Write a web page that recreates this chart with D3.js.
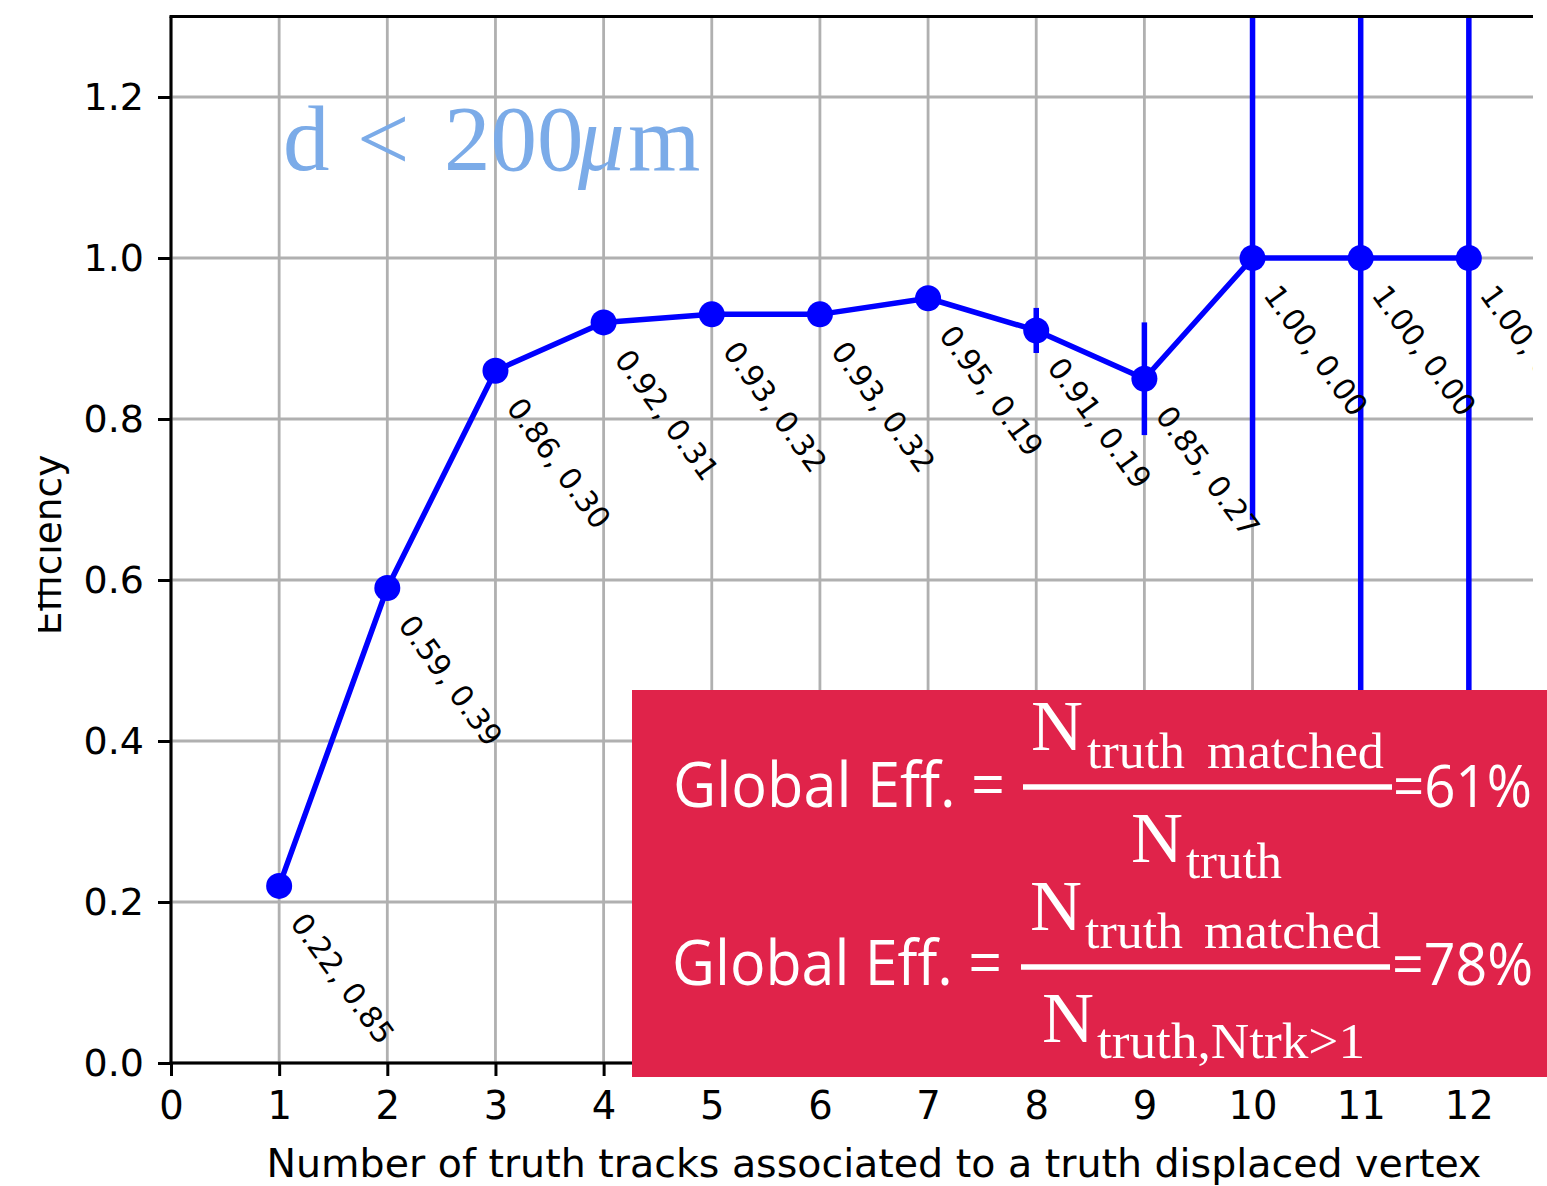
<!DOCTYPE html>
<html>
<head>
<meta charset="utf-8">
<script src="https://cdn.jsdelivr.net/npm/d3@7"></script>
<style>
  body { margin: 0; background: #ffffff; }
  svg { display: block; }
</style>
</head>
<body>
<svg id="chart" width="1547" height="1186"></svg>
<script>
// Number of truth tracks per displaced vertex
const nTracks = [1, 2, 3, 4, 5, 6, 7, 8, 9, 10, 11, 12];
// Vertex reconstruction efficiency per bin
const efficiency = [0.22, 0.59, 0.86, 0.92, 0.93, 0.93, 0.95, 0.91, 0.85, 1.00, 1.00, 1.00];
// Second number printed next to each point
const secondValue = [0.85, 0.39, 0.30, 0.31, 0.32, 0.32, 0.19, 0.19, 0.27, 0.00, 0.00, 0.00];
// Statistical uncertainty on the efficiency
const effError = [0.01, 0.01, 0.008, 0.008, 0.008, 0.008, 0.006, 0.028, 0.07, 0.325, 1.0, 1.0];
// Axis ticks
const xTicks = [0, 1, 2, 3, 4, 5, 6, 7, 8, 9, 10, 11, 12];
const yTicks = [0.0, 0.2, 0.4, 0.6, 0.8, 1.0, 1.2];

const svg = d3.select("#chart");
const W = 1547, H = 1186;

const axL = 171, axR = 1577, axB = 1063, axT = 16.5;
const x = d3.scaleLinear().domain([0, 13]).range([axL, axR]);
const y = d3.scaleLinear().domain([0, 1.3]).range([axB, axT]);

const defs = svg.append("defs");
defs.append("clipPath").attr("id", "page-clip")
  .append("rect").attr("x", 38).attr("y", 0).attr("width", 1533 - 38).attr("height", H);
defs.append("clipPath").attr("id", "axes-clip")
  .append("rect").attr("x", axL).attr("y", axT).attr("width", axR - axL).attr("height", axB - axT);

const page = svg.append("g").attr("clip-path", "url(#page-clip)");

const blue = "#0000ff";
const gridColor = "#b0b0b0";
const font = "'DejaVu Sans', sans-serif";

// grid
const grid = page.append("g");
grid.selectAll("line.gx").data(xTicks).join("line")
  .attr("x1", d => x(d)).attr("x2", d => x(d))
  .attr("y1", axT).attr("y2", axB)
  .attr("stroke", gridColor).attr("stroke-width", 2.8);
grid.selectAll("line.gy").data(yTicks).join("line")
  .attr("x1", axL).attr("x2", axR)
  .attr("y1", d => y(d)).attr("y2", d => y(d))
  .attr("stroke", gridColor).attr("stroke-width", 2.8);

// data
const data = nTracks.map((n, i) => ({ n, e: efficiency[i], s: secondValue[i], err: effError[i] }));
const plot = page.append("g").attr("clip-path", "url(#axes-clip)");

plot.append("path").datum(data)
  .attr("d", d3.line().x(d => x(d.n)).y(d => y(d.e)))
  .attr("fill", "none").attr("stroke", blue).attr("stroke-width", 5.5)
  .attr("stroke-linejoin", "round");

plot.selectAll("line.err").data(data).join("line")
  .attr("x1", d => x(d.n)).attr("x2", d => x(d.n))
  .attr("y1", d => y(d.e - d.err)).attr("y2", d => y(d.e + d.err))
  .attr("stroke", blue).attr("stroke-width", 5.5);

plot.selectAll("circle").data(data).join("circle")
  .attr("cx", d => x(d.n)).attr("cy", d => y(d.e)).attr("r", 13)
  .attr("fill", blue);

// value annotations
page.selectAll("text.ann").data(data).join("text")
  .attr("transform", d => `translate(${x(d.n) + 10},${y(d.e) + 37}) rotate(54)`)
  .attr("font-family", font).attr("font-size", 30).attr("fill", "#000")
  .text(d => `${d.e.toFixed(2)}, ${d.s.toFixed(2)}`);

// spines
const sp = page.append("g").attr("stroke", "#000").attr("stroke-width", 3).attr("fill", "none");
sp.append("line").attr("x1", axL).attr("x2", axL).attr("y1", axT).attr("y2", axB + 1.5);
sp.append("line").attr("x1", axL - 1.5).attr("x2", axR).attr("y1", axB).attr("y2", axB);
sp.append("line").attr("x1", axL - 1.5).attr("x2", axR).attr("y1", axT).attr("y2", axT);

// x axis
const xAxis = page.append("g").attr("transform", `translate(0,${axB})`)
  .call(d3.axisBottom(x).tickValues(xTicks).tickSize(13).tickPadding(16).tickFormat(d3.format("d")));
xAxis.select(".domain").remove();
xAxis.selectAll(".tick line").attr("stroke", "#000").attr("stroke-width", 3);
xAxis.selectAll(".tick text").attr("font-family", font).attr("font-size", 38.5).attr("fill", "#000");

// y axis
const yAxis = page.append("g").attr("transform", `translate(${axL},0)`)
  .call(d3.axisLeft(y).tickValues(yTicks).tickSize(13).tickPadding(14).tickFormat(d3.format(".1f")));
yAxis.select(".domain").remove();
yAxis.selectAll(".tick line").attr("stroke", "#000").attr("stroke-width", 3);
yAxis.selectAll(".tick text").attr("font-family", font).attr("font-size", 38).attr("fill", "#000");

// axis titles
page.append("text").attr("x", 874).attr("y", 1177).attr("text-anchor", "middle")
  .attr("font-family", font).attr("font-size", 39.5).attr("fill", "#000")
  .text("Number of truth tracks associated to a truth displaced vertex");
page.append("text").attr("transform", "translate(61,545) rotate(-90)").attr("text-anchor", "middle")
  .attr("font-family", font).attr("font-size", 37.5).attr("fill", "#000")
  .text("Efficiency");

// selection label
const serif = "'Liberation Serif', 'Times New Roman', serif";
const title = page.append("text").attr("y", 170).attr("font-family", serif).attr("font-size", 93).attr("fill", "#7babe8");
title.append("tspan").attr("x", 283).text("d");
title.append("tspan").attr("x", 357).text("<");
title.append("tspan").attr("x", 444).text("200");
title.append("tspan").attr("x", 578).attr("font-style", "italic").text("μ");
title.append("tspan").attr("x", 628).text("m");

// global efficiency box
const box = svg.append("g");
box.append("rect").attr("x", 632).attr("y", 690).attr("width", 915).attr("height", 387).attr("fill", "#e0234a");
const sans = "'Open Sans', 'Noto Sans', sans-serif";
const rows = [
  { y0: 807, lineY: 787, numY: 750, subY: 768, denY: 862, denX: 1131, denSubY: 878, denSub: "truth", denSubLen: 96,
    pct: "=61%", lineX1: 1023, lineX2: 1392, gx: 673, gLen: 332, numX: 1031, subX: 1087, matchedX: 1207, pctX: 1393, pctLen: 139 },
  { y0: 985, lineY: 967, numY: 930, subY: 948, denY: 1042, denX: 1042, denSubY: 1058, denSub: "truth,Ntrk>1", denSubLen: 268,
    pct: "=78%", lineX1: 1021, lineX2: 1390, gx: 672, gLen: 330, numX: 1030, subX: 1085, matchedX: 1204, pctX: 1392, pctLen: 141 }
];
rows.forEach(r => {
  box.append("text").attr("x", r.gx).attr("y", r.y0).attr("font-family", sans).attr("font-size", 63)
    .attr("fill", "#fff").attr("textLength", r.gLen).attr("lengthAdjust", "spacingAndGlyphs").text("Global Eff. =");
  box.append("rect").attr("x", r.lineX1).attr("y", r.lineY - 2.75).attr("width", r.lineX2 - r.lineX1).attr("height", 5.5).attr("fill", "#fff");
  box.append("text").attr("x", r.numX).attr("y", r.numY).attr("font-family", serif).attr("font-size", 72).attr("fill", "#fff").text("N");
  box.append("text").attr("x", r.subX).attr("y", r.subY).attr("font-family", serif).attr("font-size", 51).attr("fill", "#fff")
    .attr("textLength", 98).attr("lengthAdjust", "spacingAndGlyphs").text("truth");
  box.append("text").attr("x", r.matchedX).attr("y", r.subY).attr("font-family", serif).attr("font-size", 51).attr("fill", "#fff")
    .attr("textLength", 177).attr("lengthAdjust", "spacingAndGlyphs").text("matched");
  box.append("text").attr("x", r.denX).attr("y", r.denY).attr("font-family", serif).attr("font-size", 72).attr("fill", "#fff").text("N");
  box.append("text").attr("x", r.denX + 55).attr("y", r.denSubY).attr("font-family", serif).attr("font-size", 51).attr("fill", "#fff")
    .attr("textLength", r.denSubLen).attr("lengthAdjust", "spacingAndGlyphs").text(r.denSub);
  box.append("text").attr("x", r.pctX).attr("y", r.y0).attr("font-family", sans).attr("font-size", 59)
    .attr("fill", "#fff").attr("textLength", r.pctLen).attr("lengthAdjust", "spacingAndGlyphs").text(r.pct);
});
</script>
</body>
</html>
